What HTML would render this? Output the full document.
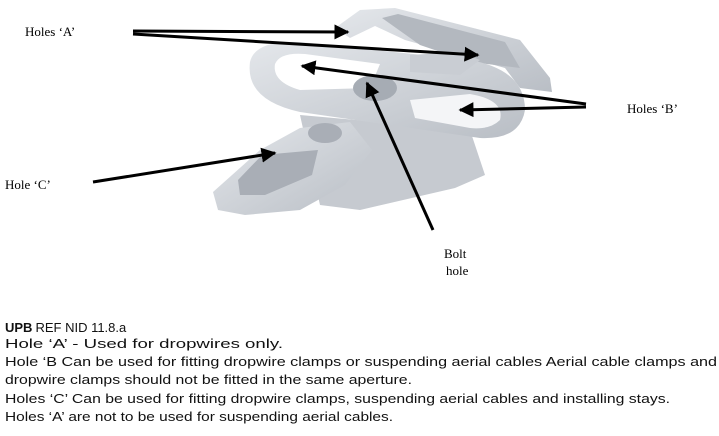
<!DOCTYPE html>
<html><head><meta charset="utf-8"><style>
html,body{margin:0;padding:0;background:#fff}
svg{display:block}
.lbl{font-family:"Liberation Serif",serif;font-size:13px;fill:#000}
.bt{font-family:"Liberation Sans",sans-serif;font-size:13px;fill:#111}
</style></head><body>
<svg width="719" height="436" viewBox="0 0 719 436">
<defs>
<marker id="ah" viewBox="0 0 10 10" refX="9" refY="5" markerWidth="5" markerHeight="5" orient="auto"><path d="M0,0 L10,5 L0,10 z" fill="#000"/></marker>
<linearGradient id="mg" x1="0" y1="0" x2="1" y2="1"><stop offset="0" stop-color="#e4e7eb"/><stop offset="1" stop-color="#b9bec5"/></linearGradient>
</defs>
<g>
<!-- central body / fins -->
<polygon points="300,115 470,130 485,175 455,188 360,210 320,205" fill="#c6cad0"/>
<!-- lower plate -->
<polygon points="213,192 260,150 300,128 350,122 372,150 345,185 300,210 245,215 218,210" fill="url(#mg)"/>
<polygon points="238,180 262,155 318,150 312,175 265,195 240,195" fill="#a9aeb6"/>
<ellipse cx="325" cy="133" rx="17" ry="10" fill="#a9aeb6"/>
<!-- top U frame -->
<polygon points="335,28 360,10 395,8 520,40 550,78 552,92 520,88 505,68 405,40 375,26 350,38" fill="url(#mg)"/>
<polygon points="382,18 398,14 505,42 520,68 470,62 420,45" fill="#b3b8bf"/>
<!-- oval ring -->
<path d="M250,62 Q255,40 300,42 L470,60 Q525,70 525,110 Q520,140 480,138 L300,112 Q245,100 250,62 z" fill="url(#mg)"/>
<path d="M275,64 Q280,52 305,54 L380,64 L370,88 L300,90 Q272,82 275,64 z" fill="#fff"/>
<path d="M410,100 L470,94 Q505,100 500,120 Q490,130 470,128 L415,118 z" fill="#f4f5f7"/>
<ellipse cx="375" cy="88" rx="22" ry="13" fill="#a6acb4"/>
<polygon points="410,55 460,52 480,60 460,75 410,72" fill="#c9cdd3"/>
</g>
<g stroke="#000" stroke-width="3" marker-end="url(#ah)">
<line x1="133" y1="31" x2="348" y2="32"/>
<line x1="133" y1="34" x2="478" y2="55"/>
<line x1="586" y1="104" x2="302" y2="66"/>
<line x1="586" y1="107" x2="460" y2="110"/>
<line x1="93" y1="182" x2="275" y2="153"/>
<line x1="433" y1="230" x2="367" y2="83"/>
</g>
<text class="lbl" x="25" y="36">Holes ‘A’</text>
<text class="lbl" x="627" y="113">Holes ‘B’</text>
<text class="lbl" x="5" y="189">Hole ‘C’</text>
<text class="lbl" x="444" y="258">Bolt</text>
<text class="lbl" x="446" y="275">hole</text>
<g>
<text x="5" y="332"><tspan class="bt" font-weight="bold" font-size="14">UPB</tspan><tspan class="bt" font-size="9.5" dx="3">REF NID 11.8.a</tspan></text>
<text class="bt" x="5" y="348" textLength="278" lengthAdjust="spacingAndGlyphs">Hole ‘A’  -  Used for dropwires only.</text>
<text class="bt" x="5" y="366" textLength="712" lengthAdjust="spacingAndGlyphs">Hole ‘B   Can be used for fitting dropwire clamps or suspending aerial cables  Aerial cable clamps  and</text>
<text class="bt" x="5" y="384" textLength="407" lengthAdjust="spacingAndGlyphs">dropwire clamps should not be fitted in the same aperture.</text>
<text class="bt" x="5" y="403" textLength="665" lengthAdjust="spacingAndGlyphs">Holes ‘C’   Can be used for fitting dropwire clamps, suspending aerial cables and installing stays.</text>
<text class="bt" x="5" y="421" textLength="388" lengthAdjust="spacingAndGlyphs">Holes ‘A’ are not to be used for suspending aerial cables.</text>
</g>
</svg>
</body></html>
